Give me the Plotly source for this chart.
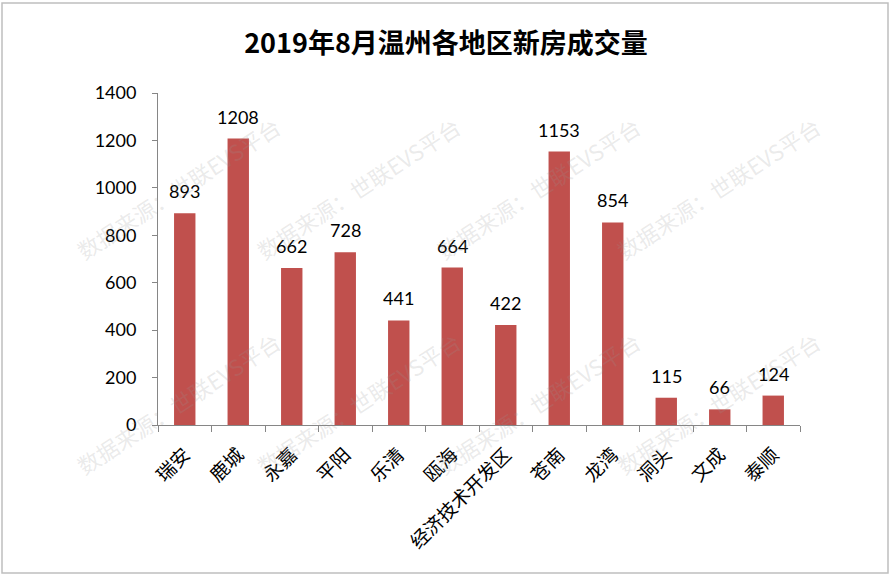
import plotly.graph_objects as go

categories = ["瑞安", "鹿城", "永嘉", "平阳", "乐清", "瓯海", "经济技术开发区", "苍南", "龙湾", "洞头", "文成", "泰顺"]
values = [893, 1208, 662, 728, 441, 664, 422, 1153, 854, 115, 66, 124]
title_text = "2019年8月温州各地区新房成交量"
watermark_text = "数据来源：世联EVS平台"
y_ticks = [0, 200, 400, 600, 800, 1000, 1200, 1400]

W, H = 892, 575
L, R, T, B = 158, 92, 93, 150
PW, PH = W - L - R, H - T - B

def px_x(x):
    return (x - L) / PW

def px_y(y):
    return (H - B - y) / PH

fig = go.Figure()
fig.add_trace(go.Bar(
    x=categories, y=values,
    marker=dict(color="#C0504D", line=dict(width=0)),
    width=0.4,
    hoverinfo="x+y",
))

annotations = []
for c, v in zip(categories, values):
    annotations.append(dict(
        x=c, y=v, xref="x", yref="y", text=str(v), showarrow=False,
        yanchor="bottom", yshift=9,
        font=dict(family="Lato, Noto Sans", size=18, color="#000000"),
    ))

# watermark grid
wm_cols = [178, 358, 538, 718]
wm_rows = [188, 403]
for wy in wm_rows:
    for wx in wm_cols:
        annotations.append(dict(
            x=px_x(wx), y=px_y(wy), xref="paper", yref="paper",
            text=watermark_text, showarrow=False, textangle=-33,
            xanchor="center", yanchor="middle",
            font=dict(family="Noto Sans CJK SC", size=22, color="rgba(150,150,150,0.2)"),
        ))

fig.update_layout(
    width=W, height=H,
    margin=dict(l=L, r=R, t=T, b=B, pad=0),
    paper_bgcolor="white", plot_bgcolor="white",
    title=dict(
        text="<b>" + title_text + "</b>",
        x=0.5, xanchor="center", xref="container",
        y=1 - 44 / H, yanchor="middle", yref="container",
        font=dict(family="Noto Sans CJK SC", size=27, color="#000000"),
    ),
    showlegend=False,
    bargap=0.6,
    annotations=annotations,
    shapes=[dict(
        type="rect", xref="paper", yref="paper",
        x0=px_x(2), x1=px_x(888), y0=px_y(573), y1=px_y(3),
        line=dict(color="#BFBFBF", width=1.5), fillcolor="rgba(0,0,0,0)", layer="below",
    )],
)

fig.update_xaxes(
    type="category",
    showline=True, linecolor="#868686", linewidth=1,
    ticks="outside", ticklen=6, tickcolor="#868686", tickson="boundaries",
    tickangle=-45,
    ticklabelstandoff=10,
    tickfont=dict(family="Noto Sans CJK SC", size=19, color="#000000"),
    showgrid=False, zeroline=False,
)
fig.update_yaxes(
    range=[0, 1400],
    tickvals=y_ticks, ticktext=[str(t) for t in y_ticks],
    showline=True, linecolor="#868686", linewidth=1,
    ticks="outside", ticklen=5, tickcolor="#868686",
    ticklabelstandoff=12,
    tickfont=dict(family="Lato, Noto Sans", size=18, color="#000000"),
    showgrid=False, zeroline=False,
)

fig.write_html(
    "out.html",
    config={"displayModeBar": False},
    post_script="document.body.style.margin='0';document.body.style.overflow='hidden';",
)
